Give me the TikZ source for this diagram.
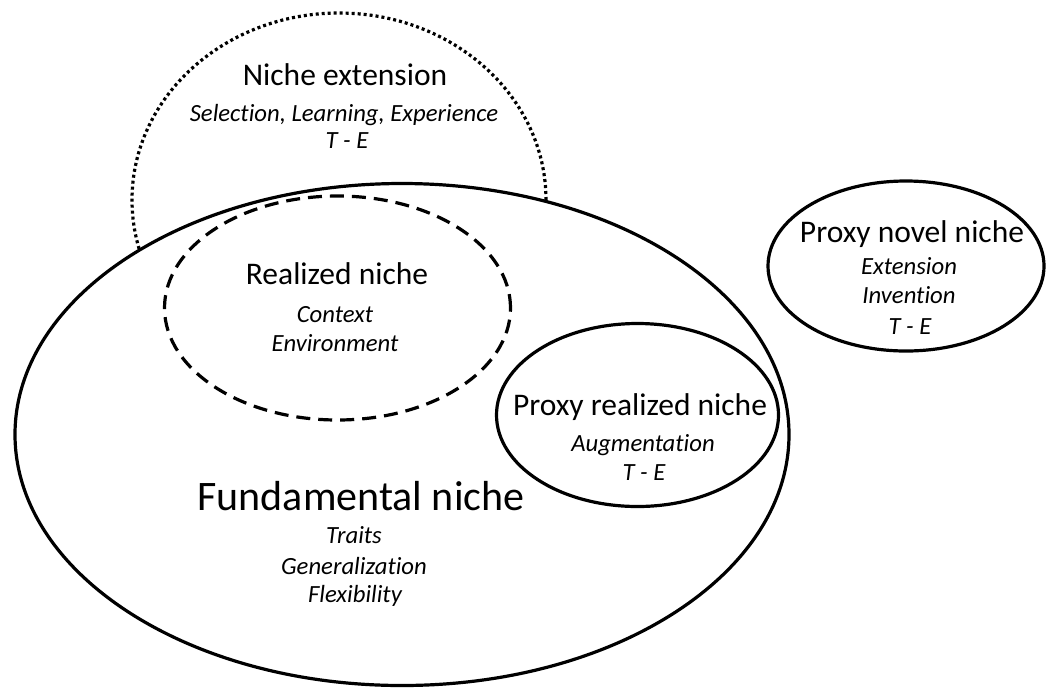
\documentclass[tikz,border=0pt]{standalone}
\usepackage{fontspec}
\setmainfont{Carlito}[Ligatures=CommonOff]
\usetikzlibrary{shapes.geometric}

\begin{document}
\begin{tikzpicture}
  [x=1pt,y=-1pt,
    every node/.style={inner sep=0pt,outer sep=0pt},
    niche/.style={ellipse,draw,line width=3.2pt},
    title/.style={anchor=base,font=\fontsize{31.5}{36}\selectfont},
    big/.style={anchor=base,font=\fontsize{42}{48}\selectfont},
    note/.style={anchor=base,font=\itshape\fontsize{24.7}{28}\selectfont},
]
  \useasboundingbox (0,0) rectangle (1046,689);
  % ellipses, back to front
  \node[niche,dash pattern=on 3pt off 3pt,minimum width=414pt,minimum height=374pt] (ext) at (339,200) {};
  \node[niche,fill=white,minimum width=774pt,minimum height=502pt] (fund) at (402,434.5) {};
  \node[niche,dash pattern=on 14pt off 8pt,minimum width=346pt,minimum height=224pt] (real) at (337.5,308) {};
  \node[niche,fill=white,minimum width=282pt,minimum height=183pt] (preal) at (637.5,415) {};
  \node[niche,minimum width=276pt,minimum height=170pt] (pnovel) at (906,266) {};

  % Niche extension
  \node[title] (ext-t) at (345,85) {Niche extension};
  \node[note] (ext-1) at (344,121) {Selection, Learning, Experience};
  \node[note] (ext-2) at (347,148) {T - E};

  % Realized niche
  \node[title] (real-t) at (337,284) {Realized niche};
  \node[note] (real-1) at (335,322.5) {Context};
  \node[note] (real-2) at (335,351.5) {Environment};

  % Fundamental niche
  \node[big] (fund-t) at (361,510) {Fundamental niche};
  \node[note] (fund-1) at (354,543) {Traits};
  \node[note] (fund-2) at (354,574) {Generalization};
  \node[note] (fund-3) at (355,602.5) {Flexibility};

  % Proxy realized niche
  \node[title] (preal-t) at (640,415) {Proxy realized niche};
  \node[note] (preal-1) at (643,451.5) {Augmentation};
  \node[note] (preal-2) at (644,480) {T - E};

  % Proxy novel niche
  \node[title] (pnovel-t) at (912,242.5) {Proxy novel niche};
  \node[note] (pnovel-1) at (909,274) {Extension};
  \node[note] (pnovel-2) at (909,303.5) {Invention};
  \node[note] (pnovel-3) at (910,334) {T - E};
\end{tikzpicture}
\end{document}
